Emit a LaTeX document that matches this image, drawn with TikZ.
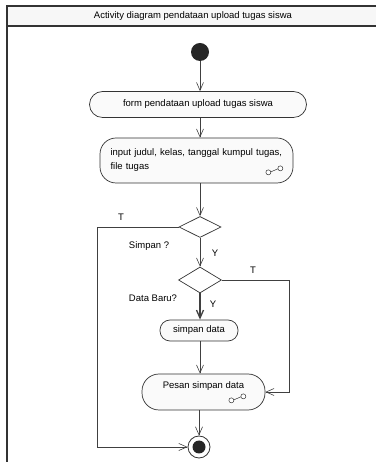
\documentclass[tikz,border=0pt]{standalone}
\usepackage{fontspec}
\setmainfont{Liberation Sans}
\usetikzlibrary{arrows.meta,shapes.geometric,positioning,calc}

\tikzset{
  flow/.style={draw=black!75, line width=0.6pt, -{Straight Barb[length=8pt,width=7pt]}},
  act/.style={draw=black!80, fill=black!2, line width=0.7pt, font=\fontsize{9.5}{14}\selectfont},
  cond/.style={diamond, draw=black!80, fill=white, line width=0.7pt, inner sep=0pt},
  guard/.style={font=\fontsize{9.5}{11}\selectfont, inner sep=0pt}
}

\begin{document}
\begin{tikzpicture}[x=1pt, y=1pt]
  % Define the size of the page
  \useasboundingbox (0,0) rectangle (376,462);

  % Draw the frame and its title
  \fill[black!3] (7,436) rectangle (376,456);
  \draw[black!80, line width=1.2pt] (376,456) -- (7,456) -- (7,0);
  \draw[black!80, line width=1.2pt] (7,436) -- (376,436);
  \node[guard] (title) at (193,446) {Activity diagram pendataan upload tugas siswa};

  % Define the nodes
  \node[circle, fill=black!85, minimum size=18pt, inner sep=0pt] (start) at (200,410) {};
  \node[act, rounded corners=13pt, minimum width=217pt, minimum height=26pt] (form) at (198,357.5) {form pendataan upload tugas siswa};
  \node[act, rounded corners=16pt, minimum width=193pt, minimum height=45pt, text width=172pt, align=left] (input) at (196.5,301.5)
    {input judul, kelas, tanggal kumpul tugas,\\file tugas};
  \node[cond, minimum width=42pt, minimum height=21pt] (simpanq) at (200,235) {};
  \node[cond, minimum width=43pt, minimum height=26pt] (barux) at (200,182) {};
  \node[act, rounded corners=10pt, minimum width=78pt, minimum height=21pt] (simpan) at (199,131.5) {simpan data};
  \node[act, rounded corners=17pt, minimum width=123pt, minimum height=36pt, align=center] (pesan) at (203.5,70) {Pesan simpan data\\\mbox{}};
  \node[circle, draw=black!80, line width=0.8pt, fill=white, minimum size=22pt, inner sep=0pt] (end) at (199,15) {};
  \fill[black!85] (end) circle (6.5pt);

  % Draw the object pins
  \foreach \p/\dx/\dy in {input/-19/13, pesan/-28/12} {
    \begin{scope}[shift={($(\p.south east)+(\dx,\dy)$)}]
      \draw[black!80, line width=0.5pt, fill=white] (-6,-2) circle (2.5pt) (6,2) circle (2.5pt);
      \draw[black!80, line width=0.5pt] (-3.5,-1.5) -- (3.5,1.5);
    \end{scope}
  }

  % Draw the flows
  \draw[flow] (start) -- (start |- form.north);
  \draw[flow] (form.south -| start) -- (start |- input.north);
  \draw[flow] (input.south -| simpanq) -- (simpanq.north);
  \draw[flow] (simpanq.south) -- (barux.north);
  \draw[flow, line width=1.3pt] (barux.south) -- (barux |- simpan.north);
  \draw[flow] (simpan.south -| barux) -- (barux |- pesan.north);
  \draw[flow] (pesan.south -| end) -- (end.north);
  \draw[flow] (simpanq.west) -- (97,235) |- (end.west);
  \draw[flow] (barux.east) -- (289,182) |- (pesan.east);

  % Draw the guards
  \node[guard] (t1) at (121,245) {T};
  \node[guard] (simpanlbl) at (149,216) {Simpan ?};
  \node[guard] (y1) at (215,209) {Y};
  \node[guard] (t2) at (253,192) {T};
  \node[guard] (barulbl) at (153,164) {Data Baru?};
  \node[guard] (y2) at (213,158) {Y};
\end{tikzpicture}
\end{document}
